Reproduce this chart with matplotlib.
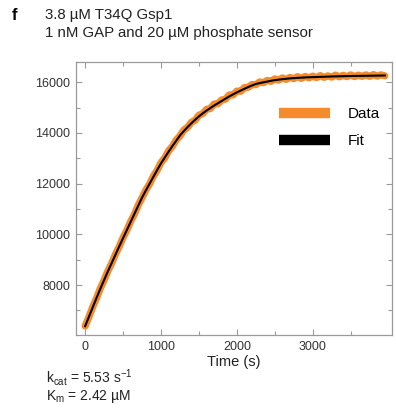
import numpy as np
import matplotlib
matplotlib.use('Agg')
import matplotlib.pyplot as plt
from matplotlib.lines import Line2D

plt.rcParams['font.family'] = ['Liberation Sans', 'DejaVu Sans']
plt.rcParams['mathtext.fontset'] = 'custom'
plt.rcParams['mathtext.rm'] = 'Liberation Sans'
plt.rcParams['mathtext.it'] = 'Liberation Sans'

# time points (s)
time_s = np.arange(0, 4000, 50)

# fluorescence, raw data
data_vals = [6380, 6740, 7135, 7480, 7865, 8190, 8555, 8860, 9215, 9520,
             9870, 10160, 10505, 10795, 11150, 11440, 11745, 11990, 12295, 12530,
             12830, 13015, 13290, 13470, 13720, 13880, 14110, 14220, 14420, 14500,
             14700, 14760, 14930, 14960, 15140, 15150, 15300, 15330, 15500, 15500,
             15650, 15640, 15790, 15800, 15910, 15900, 16010, 15980, 16070, 16030,
             16130, 16080, 16170, 16110, 16190, 16140, 16220, 16150, 16230, 16170,
             16240, 16180, 16260, 16190, 16250, 16200, 16280, 16210, 16270, 16220,
             16290, 16220, 16280, 16230, 16290, 16230, 16300, 16240, 16290, 16250]

# fitted curve
fit_vals = [6376, 6750, 7120, 7490, 7850, 8200, 8540, 8870, 9200, 9530,
            9850, 10170, 10490, 10810, 11130, 11450, 11730, 12000, 12270, 12540,
            12800, 13030, 13260, 13480, 13690, 13900, 14070, 14230, 14380, 14520,
            14650, 14770, 14880, 14980, 15080, 15170, 15260, 15350, 15440, 15520,
            15600, 15670, 15740, 15810, 15870, 15930, 15965, 15995, 16025, 16055,
            16080, 16100, 16120, 16135, 16150, 16160, 16170, 16180, 16188, 16195,
            16200, 16205, 16210, 16215, 16220, 16225, 16230, 16233, 16237, 16241,
            16245, 16247, 16249, 16251, 16253, 16255, 16258, 16260, 16262, 16265]

orange = '#F68B2C'
grey = '#9a9a9a'

fig = plt.figure(figsize=(3.96, 4.09), dpi=100)
ax = fig.add_axes([0.192, 0.181, 0.798, 0.667])

ax.plot(time_s, data_vals, color=orange, lw=5.2, solid_joinstyle='round',
        solid_capstyle='round')
ax.plot(time_s, fit_vals, color='black', lw=1.5)

ax.set_xlim(-120, 4045)
ax.set_ylim(6030, 16790)
ax.set_xticks([0, 1000, 2000, 3000])
ax.set_xticks([500, 1500, 2500, 3500], minor=True)
ax.set_yticks([8000, 10000, 12000, 14000, 16000])
ax.set_yticks([7000, 9000, 11000, 13000, 15000], minor=True)
ax.tick_params(which='both', direction='in', top=True, right=True,
               color=grey, labelcolor='#333333', labelsize=9, width=0.8)
ax.tick_params(which='major', length=4, pad=4)
ax.tick_params(which='minor', length=3)
for sp in ax.spines.values():
    sp.set_color(grey)
    sp.set_linewidth(0.9)

ax.set_xlabel('Time (s)', fontsize=10.5, color='#222222', labelpad=2)

handles = [Line2D([], [], color=orange, lw=7.5, solid_capstyle='butt'),
           Line2D([], [], color='black', lw=7.5, solid_capstyle='butt')]
ax.legend(handles, ['Data', 'Fit'], loc='upper left', bbox_to_anchor=(0.6, 0.885),
          frameon=False, fontsize=11, handlelength=3.3, handletextpad=1.2,
          labelspacing=0.85)

fig.text(12 / 396, 1 - 16 / 409, 'f', fontsize=12, fontweight='bold', va='center')
fig.text(45 / 396, 1 - 15 / 409, '3.8 µM T34Q Gsp1', fontsize=10.8, va='center', color='#222222')
fig.text(45 / 396, 1 - 33 / 409, '1 nM GAP and 20 µM phosphate sensor', fontsize=10.8,
         va='center', color='#222222')
fig.text(46 / 396, 1 - 383 / 409, r'k$_{\mathrm{cat}}$ = 5.53 s$^{\mathrm{-1}}$', fontsize=10,
         va='baseline', color='#222222')
fig.text(46 / 396, 1 - 400 / 409, r'K$_{\mathrm{m}}$ = 2.42 µM', fontsize=10,
         va='baseline', color='#222222')

fig.savefig('out.png', dpi=100)
